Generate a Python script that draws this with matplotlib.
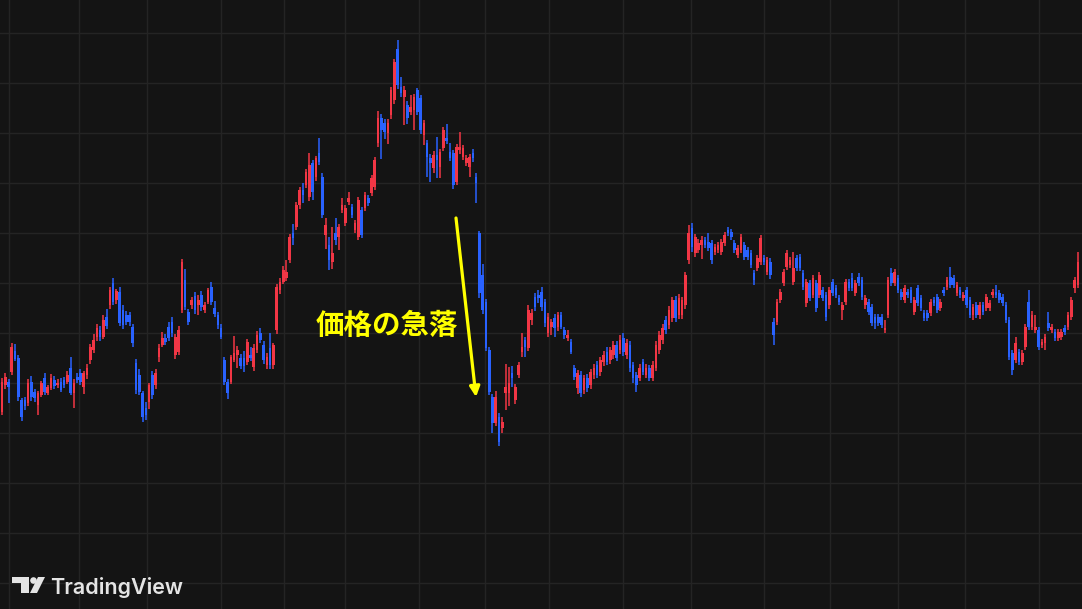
import matplotlib
matplotlib.use("Agg")
import matplotlib.pyplot as plt
from matplotlib.patches import Polygon, Circle
import numpy as np

# ---------------- data (daily OHLC) ----------------
opens = [
    197,224,227,237,258,251,209,209,206,227, 217,204,214,231,216,221,229,224,227,229,
    227,241,216,232,236,222,234,249,259,272, 279,272,292,304,326,309,317,299,294,294,
    282,246,234,216,201,207,234,224,252,264, 271,282,287,254,257,299,329,297,304,313,
    304,314,299,307,322,301,294,281,249,227, 227,249,254,251,251,247,254,242,259,276,
    264,244,261,244,279,319,327,331,349,376, 382,404,419,424,412,446,432,456,432,374,
    364,347,376,372,399,386,407,402,379,372, 399,401,411,416,422,466,491,486,476,494,
    509,560,522,512,504,497,499,519,511,474, 466,451,441,454,442,461,471,457,456,427,
    459,452,446,442,456,432,376,334,307,259, 212,186,192,181,216,216,236,209,234,257,
    269,261,289,312,314,317,307,276,282,291, 282,294,279,271,267,241,221,234,219,231,
    224,234,244,237,247,257,249,254,264,259, 271,254,264,244,234,231,247,234,241,231,
    241,259,269,289,284,291,309,294,294,304, 349,381,356,359,364,369,367,366,357,359,
    357,366,379,377,366,354,359,364,359,356, 336,341,347,351,337,347,287,287,309,326,
    342,344,327,351,352,336,306,326,314,326, 314,319,314,304,327,321,311,299,307,327,
    331,316,332,329,304,307,302,292,292,292, 279,294,336,326,331,317,309,317,319,297,
    321,311,296,296,296,309,312,301,319,322, 332,331,316,319,311,319,309,294,304,294,
    304,301,301,314,317,316,312,304,289,256, 249,257,247,262,307,282,279,279,264,266,
    286,279,277,271,272,281,282,292,321,324,
]
highs = [
    231,236,230,266,265,254,211,212,230,233, 220,218,228,236,224,235,233,230,231,232,
    238,252,230,236,240,238,245,265,275,285, 283,294,300,322,331,320,322,304,298,297,
    285,250,240,218,207,226,238,240,265,277, 275,287,292,275,283,350,340,300,312,317,
    314,318,307,321,327,308,297,285,252,230, 254,273,263,255,258,270,262,265,278,281,
    268,256,276,266,325,331,343,349,375,385, 407,422,426,440,456,449,453,471,436,391,
    372,382,391,385,411,404,417,405,389,412, 402,417,414,434,452,498,495,490,490,522,
    550,569,532,523,508,514,515,521,514,489, 469,455,458,472,460,482,485,466,459,465,
    477,464,454,455,460,436,378,345,310,262, 215,218,196,192,245,242,243,225,247,276,
    272,304,300,316,319,322,310,296,290,295, 297,297,282,279,270,244,239,238,234,235,
    240,245,248,252,258,262,262,268,268,274, 276,270,268,247,237,245,250,245,244,248,
    268,278,285,293,303,312,313,315,312,337, 384,386,375,370,373,372,376,369,365,367,
    370,377,382,380,369,364,375,367,362,359, 339,354,374,354,352,351,291,310,320,340,
    359,352,357,354,355,339,330,329,334,329, 337,322,317,322,330,324,314,307,330,330,
    336,329,336,332,314,310,305,295,295,295, 289,332,341,340,334,320,324,320,322,312,
    324,314,299,299,310,312,315,310,322,332, 342,334,327,322,317,322,312,305,307,307,
    307,315,309,320,324,319,315,307,292,259, 272,260,259,285,319,298,294,282,270,275,
    297,285,280,280,280,284,297,312,332,357,
]
lows = [
    194,220,206,234,248,208,188,199,203,208, 207,194,212,214,214,219,220,221,217,221,
    225,214,201,226,224,215,230,245,256,268, 268,270,280,300,304,305,283,280,284,283,
    262,215,214,187,189,200,210,220,247,262, 264,268,272,250,254,296,299,284,300,295,
    294,298,296,305,304,292,280,270,224,210, 225,247,241,240,237,244,248,238,256,266,
    245,240,240,240,275,315,325,328,346,364, 379,400,406,421,408,409,428,444,391,360,
    339,340,364,359,396,383,404,391,376,369, 371,398,403,413,419,462,450,470,465,490,
    505,520,512,484,485,494,479,494,475,464, 432,427,436,431,431,458,465,448,420,424,
    455,449,443,432,447,406,311,295,258,214, 176,183,163,176,199,203,222,205,231,252,
    252,258,284,298,306,298,282,272,274,272, 278,280,270,268,255,229,215,212,215,217,
    220,230,231,233,243,244,245,250,248,255, 253,250,237,226,217,228,234,231,228,228,
    238,255,265,275,280,287,287,290,290,300, 345,357,352,356,350,361,358,345,354,356,
    354,363,373,369,356,351,356,349,349,341, 324,338,344,344,334,330,264,284,306,323,
    339,341,324,338,338,319,302,308,311,297, 311,308,288,300,313,311,304,289,304,318,
    318,313,323,309,300,294,283,280,283,281, 276,291,323,323,316,309,306,311,306,294,
    303,298,288,288,293,303,296,298,313,319, 321,321,313,311,308,301,291,289,291,290,
    294,298,298,311,311,306,303,286,249,234, 246,244,244,259,279,279,276,259,261,259,
    278,276,268,268,269,274,279,289,316,321,
]
closes = [
    227,232,222,262,250,212,192,203,226,212, 211,216,226,217,222,231,223,226,219,224,
    234,216,226,229,227,236,241,262,269,281, 272,289,283,319,307,318,286,284,287,287,
    266,219,217,192,194,224,214,236,261,271, 267,271,276,272,279,347,302,287,309,299,
    309,302,304,319,307,295,284,272,227,216, 252,256,259,243,243,267,251,261,274,269,
    249,252,244,264,322,327,339,337,372,371, 404,419,414,437,444,417,451,447,394,384,
    349,356,369,382,404,401,411,394,386,409, 374,414,406,431,449,491,479,477,486,519,
    547,524,516,519,491,502,512,497,479,486, 452,446,454,449,457,479,468,451,424,462,
    462,461,451,452,451,426,316,299,261,217, 186,212,167,187,222,226,231,222,244,262,
    262,299,296,302,311,302,286,292,287,281, 294,282,274,274,257,232,236,216,231,221,
    237,241,234,249,254,247,259,264,251,269, 257,266,241,231,224,241,237,241,231,244,
    264,274,281,279,299,309,291,311,309,334, 376,362,372,366,369,364,361,349,362,364,
    367,374,376,372,359,361,372,352,352,344, 329,351,371,347,349,334,274,307,317,337,
    356,349,341,341,341,322,327,311,331,301, 334,311,292,319,316,314,307,304,327,321,
    321,326,326,312,311,297,286,286,286,284, 281,329,326,337,319,312,321,314,309,309,
    306,301,291,291,307,306,299,307,316,329, 324,324,324,314,314,304,294,302,294,304,
    297,312,306,317,314,309,306,289,252,239, 266,247,256,282,282,294,282,262,267,272,
    281,282,271,277,277,277,294,309,329,347,
]
# month boundaries (candle index) and price grid levels
month_lines = [2.1, 23.6, 44.3, 67.0, 86.2, 104.9, 127.5, 147.7, 167.3, 189.9,
               210.7, 233.0, 253.2, 274.0, 294.5, 317.1]
price_lines = [26, 76, 126, 176, 226, 276, 326, 376, 426, 476, 526, 576]
annotation_text = "価格の急落"
brand_text = "TradingView"

# ---------------- style ----------------
BG = "#141414"
GRID = "#242424"
UP = "#F23645"
DOWN = "#2962FF"
YELLOW = "#FFFF00"

W, H = 1082, 609
fig = plt.figure(figsize=(W / 100, H / 100), dpi=100, facecolor=BG)
ax = fig.add_axes([0, 0, 1, 1])
ax.set_facecolor(BG)

o = np.array(opens, float)
h = np.array(highs, float)
l = np.array(lows, float)
c = np.array(closes, float)
x = np.arange(len(o))
up = c >= o
cols = np.where(up, UP, DOWN)

ax.vlines(x, l, h, colors=cols, linewidth=1.1, zorder=3)
body_bottom = np.minimum(o, c)
body_h = np.maximum(np.abs(c - o), 1.5)
ax.bar(x, body_h, bottom=body_bottom, width=0.8, color=cols, linewidth=0, zorder=4)

ax.set_xlim(-0.61, 330.28)
ax.set_ylim(0, H)
ax.set_xticks(month_lines)
ax.set_yticks(price_lines)
ax.grid(True, color=GRID, linewidth=1.0, zorder=0)
ax.tick_params(length=0, labelbottom=False, labelleft=False)
for s in ax.spines.values():
    s.set_visible(False)
ax.set_axisbelow(True)

# ---------------- overlay (pixel coordinates) ----------------
ov = fig.add_axes([0, 0, 1, 1])
ov.set_xlim(0, W)
ov.set_ylim(H, 0)
ov.axis("off")
ov.patch.set_alpha(0)

ov.text(387, 326, annotation_text, color=YELLOW, fontsize=20.5, fontweight="bold",
        family=["Noto Sans CJK JP", "DejaVu Sans"], ha="center", va="center")
ov.annotate("", xy=(476, 397), xytext=(456, 218),
            arrowprops=dict(arrowstyle="-|>", color=YELLOW, lw=2.3,
                            mutation_scale=15, shrinkA=0, shrinkB=0))

# TradingView logo
LOGO = "#E4E4E4"
ov.add_patch(Polygon([(12, 577), (29, 577), (29, 593), (21, 593), (21, 583), (12, 583)],
                     closed=True, color=LOGO, lw=0))
ov.add_patch(Circle((33.5, 580.5), 3.3, color=LOGO, lw=0))
ov.add_patch(Polygon([(38, 577), (45, 577), (37, 593), (30, 593)], closed=True,
                     color=LOGO, lw=0))
ov.text(50, 593.5, brand_text, color=LOGO, fontsize=15.5, fontweight="semibold",
        family=["Inter", "DejaVu Sans"], ha="left", va="baseline")

fig.savefig("out.png", dpi=100, facecolor=BG)
